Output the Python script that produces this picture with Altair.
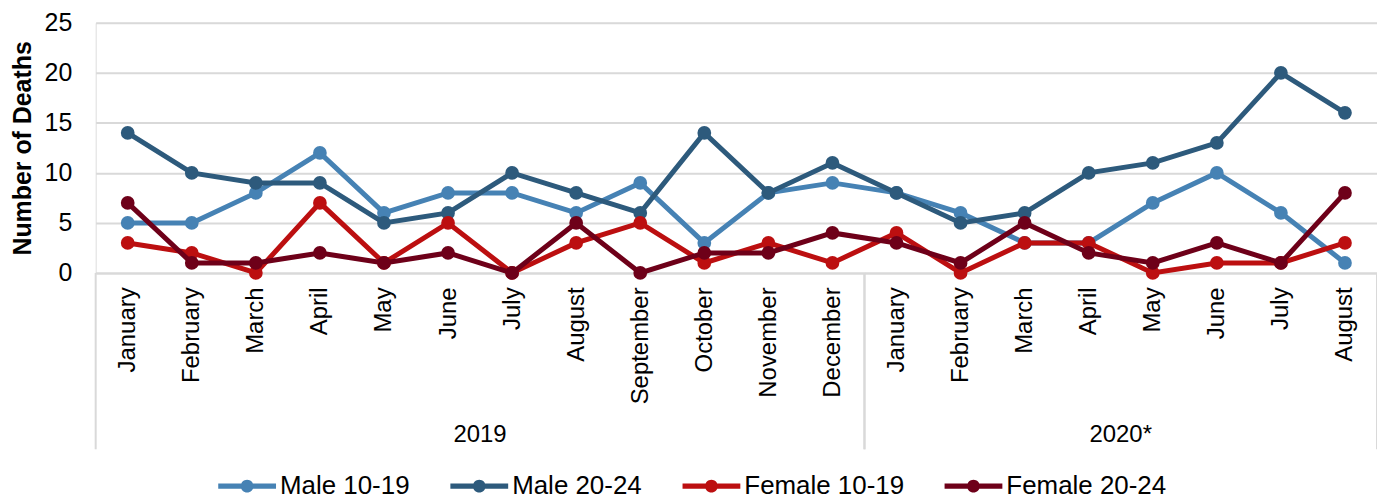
import altair as alt
import pandas as pd

# ---- data ----
months = ["January", "February", "March", "April", "May", "June", "July", "August",
          "September", "October", "November", "December",
          "January", "February", "March", "April", "May", "June", "July", "August"]
years = ["2019"] * 12 + ["2020*"] * 8
series_names = ["Male 10-19", "Male 20-24", "Female 10-19", "Female 20-24"]
male_10_19 = [5, 5, 8, 12, 6, 8, 8, 6, 9, 3, 8, 9, 8, 6, 3, 3, 7, 10, 6, 1]
male_20_24 = [14, 10, 9, 9, 5, 6, 10, 8, 6, 14, 8, 11, 8, 5, 6, 10, 11, 13, 20, 16]
female_10_19 = [3, 2, 0, 7, 1, 5, 0, 3, 5, 1, 3, 1, 4, 0, 3, 3, 0, 1, 1, 3]
female_20_24 = [7, 1, 1, 2, 1, 2, 0, 5, 0, 2, 2, 4, 3, 1, 5, 2, 1, 3, 1, 8]
colors = ["#4682b4", "#2d5a7c", "#bc0f10", "#6e0019"]
y_ticks = [0, 5, 10, 15, 20, 25]

series_values = [male_10_19, male_20_24, female_10_19, female_20_24]
rows = []
for name, vals in zip(series_names, series_values):
    for i, v in enumerate(vals):
        rows.append({"idx": i, "month": months[i], "year": years[i], "series": name, "value": v})
df = pd.DataFrame(rows)

FONT = "Liberation Sans"
n = len(months)
label_expr = "[" + ",".join("'" + m + "'" for m in months) + "][datum.value]"

# legend symbol: thick line with a filled circle in the middle
legend_path = ("M-1,-0.09 H1 V0.09 H-1 Z "
               "M0.22,0 A0.22,0.22 0 1 1 -0.22,0 A0.22,0.22 0 1 1 0.22,0 Z")

x_enc = alt.X(
    "idx:Q",
    scale=alt.Scale(domain=[-0.5, n - 0.5], nice=False, zero=False),
    axis=alt.Axis(
        values=list(range(n)), labelExpr=label_expr, labelAngle=-90,
        title=None, grid=False, ticks=False, tickSize=0, labelPadding=14,
        labelFontSize=24, labelFont=FONT, labelColor="#000000",
        domainColor="#d9d9d9", domainWidth=2, labelOverlap=False, labelFlush=False,
    ),
)
y_enc = alt.Y(
    "value:Q",
    scale=alt.Scale(domain=[0, 25], nice=False),
    axis=alt.Axis(
        values=y_ticks, title="Number of Deaths", domain=False, ticks=False,
        labelPadding=24, labelFontSize=25, labelFont=FONT, labelColor="#000000",
        gridColor="#d9d9d9", gridWidth=2,
        titleFont=FONT, titleFontSize=25, titleFontWeight="bold", titleColor="#000000",
        titleAngle=270, titleX=-65, titleY=125.5, titleAlign="center",
        titleBaseline="alphabetic",
    ),
)
color_legend = alt.Color(
    "series:N",
    scale=alt.Scale(domain=series_names, range=colors),
    legend=alt.Legend(
        title=None, orient="none", direction="horizontal", legendX=123, legendY=436,
        symbolType=legend_path, symbolSize=3364, symbolStrokeWidth=0,
        symbolOpacity=1,
        labelFont=FONT, labelFontSize=26, labelColor="#000000", labelOffset=4,
        columnPadding=40, padding=0, labelLimit=400,
    ),
)

base = alt.Chart(df)
layers = []
for s, c in zip(series_names, colors):
    sub = base.transform_filter(alt.datum.series == s)
    layers.append(sub.mark_line(strokeWidth=5, color=c).encode(x=x_enc, y=y_enc))
    layers.append(sub.mark_point(filled=True, size=190, opacity=1).encode(
        x=x_enc, y=y_enc, color=color_legend))

# year group boxes and labels, computed from the data
groups = base.transform_aggregate(
    lo="min(idx)", hi="max(idx)", groupby=["year"]
).transform_calculate(
    left="datum.lo - 0.5", right="datum.hi + 0.5", mid="(datum.lo + datum.hi) / 2"
)
rule_left = groups.mark_rule(color="#d9d9d9", strokeWidth=2).encode(
    x=alt.X("left:Q"), y=alt.value(251), y2=alt.value(428))
rule_right = groups.mark_rule(color="#d9d9d9", strokeWidth=2).encode(
    x=alt.X("right:Q"), y=alt.value(251), y2=alt.value(428))
year_text = groups.mark_text(fontSize=24, font=FONT, color="#000000",
                             baseline="middle", align="center").encode(
    x=alt.X("mid:Q"), y=alt.value(414), text="year:N")

chart = alt.layer(rule_left, rule_right, year_text, *layers).properties(
    width=1286, height=251,
    padding={"left": 88, "top": 14, "right": 0, "bottom": 226},
    autosize=alt.AutoSizeParams(type="none"),
).configure_view(stroke=None).configure(font=FONT)

chart.save("out.html", embed_options={"renderer": "svg", "actions": False})
